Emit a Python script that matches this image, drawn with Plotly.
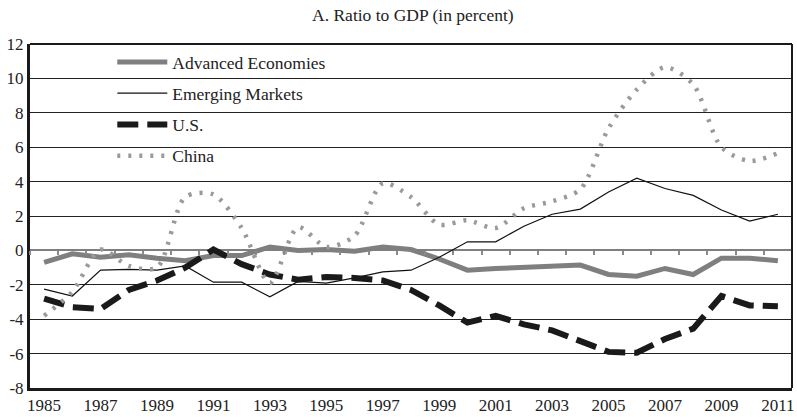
import plotly.graph_objects as go

years = list(range(1985, 2012))

advanced = [-0.7, -0.2, -0.4, -0.25, -0.45, -0.6, -0.3, -0.3, 0.2, 0.0, 0.05, -0.05, 0.2, 0.05,
            -0.5, -1.15, -1.05, -1.0, -0.95, -0.85, -1.4, -1.5, -1.05, -1.4, -0.45, -0.45, -0.6]
emerging = [-2.25, -2.65, -1.15, -1.1, -1.15, -0.9, -1.85, -1.85, -2.7, -1.8, -1.9, -1.6, -1.25, -1.15,
            -0.4, 0.5, 0.5, 1.4, 2.1, 2.4, 3.4, 4.2, 3.6, 3.2, 2.35, 1.7, 2.1]
us = [-2.8, -3.3, -3.4, -2.3, -1.75, -1.0, 0.05, -0.8, -1.4, -1.7, -1.55, -1.6, -1.75, -2.3,
      -3.2, -4.2, -3.8, -4.3, -4.65, -5.3, -5.9, -5.95, -5.15, -4.55, -2.65, -3.2, -3.25]
china = [-3.8, -2.4, 0.05, -0.9, -1.0, 3.1, 3.25, 1.3, -1.9, 1.35, 0.2, 0.85, 3.9, 3.1,
         1.5, 1.75, 1.3, 2.45, 2.85, 3.55, 7.1, 9.35, 10.65, 9.65, 6.0, 5.2, 5.65]

tick_years = list(range(1985, 2012, 2))
y_ticks = list(range(-8, 13, 2))
y_labels = [str(v) for v in y_ticks]  # plain hyphen, as in the source
serif = "Liberation Serif"

fig = go.Figure()
fig.add_trace(go.Scatter(x=years, y=advanced, name="Advanced Economies", mode="lines",
                         line=dict(color="#7f7f7f", width=5), legendgroup="a"))
fig.add_trace(go.Scatter(x=years, y=emerging, name="Emerging Markets", mode="lines",
                         line=dict(color="#111111", width=1.2), legendgroup="b"))
fig.add_trace(go.Scatter(x=years, y=us, name="U.S.", mode="lines",
                         line=dict(color="#1a1a1a", width=6, dash="21px,9px"), legendgroup="c"))
fig.add_trace(go.Scatter(x=years, y=china, name="China", mode="lines",
                         line=dict(color="#9a9a9a", width=4.5, dash="3px,8px", shape="spline", smoothing=0.8),
                         legendgroup="d"))
# invisible trace so the zero-line tick axis gets drawn
fig.add_trace(go.Scatter(x=years, y=advanced, xaxis="x2", mode="lines", opacity=0,
                         showlegend=False, hoverinfo="skip"))

fig.update_layout(
    width=797, height=417,
    margin=dict(l=30, r=2, t=44, b=27),
    paper_bgcolor="white", plot_bgcolor="white",
    font=dict(family=serif, size=17, color="#222222"),
    title=dict(text="A. Ratio to GDP (in percent)", x=0.518, xanchor="center", y=0.965, yanchor="middle",
               font=dict(family=serif, size=17.5, color="#222222")),
    xaxis=dict(range=[1984.5, 2011.5], tickvals=tick_years, ticks="", showgrid=False,
               showline=True, linecolor="#1a1a1a", linewidth=3, zeroline=False,
               ticklabeloverflow="allow", tickfont=dict(size=17)),
    xaxis2=dict(range=[1984.5, 2011.5], overlaying="x", anchor="free", position=0.4,
                tick0=1984.5, dtick=1, ticks="outside", ticklen=4, tickwidth=2, tickcolor="#8a8a8a",
                showticklabels=False, showgrid=False, showline=False, zeroline=False),
    yaxis=dict(range=[-8, 12], tickvals=y_ticks, ticktext=y_labels, showgrid=True,
               gridcolor="#222222", gridwidth=1,
               showline=True, linecolor="#1a1a1a", linewidth=3, ticks="",
               zeroline=True, zerolinecolor="#7f7f7f", zerolinewidth=2,
               tickfont=dict(size=17)),
    legend=dict(x=0.108, y=1.0, xanchor="left", yanchor="top", bgcolor="rgba(0,0,0,0)",
                tracegroupgap=5.5, itemwidth=50, font=dict(size=17.5), traceorder="grouped"),
    shapes=[
        dict(type="line", xref="paper", yref="paper", x0=0, x1=1, y0=1, y1=1,
             line=dict(color="#1a1a1a", width=2)),
        dict(type="line", xref="paper", yref="paper", x0=1, x1=1, y0=0, y1=1,
             line=dict(color="#1a1a1a", width=2)),
    ],
)

# drop the default page margin so the figure sits at the window's corner
fig.write_html("out.html", config={"displayModeBar": False},
               post_script="document.body.style.margin='0';document.body.style.overflow='hidden';")
